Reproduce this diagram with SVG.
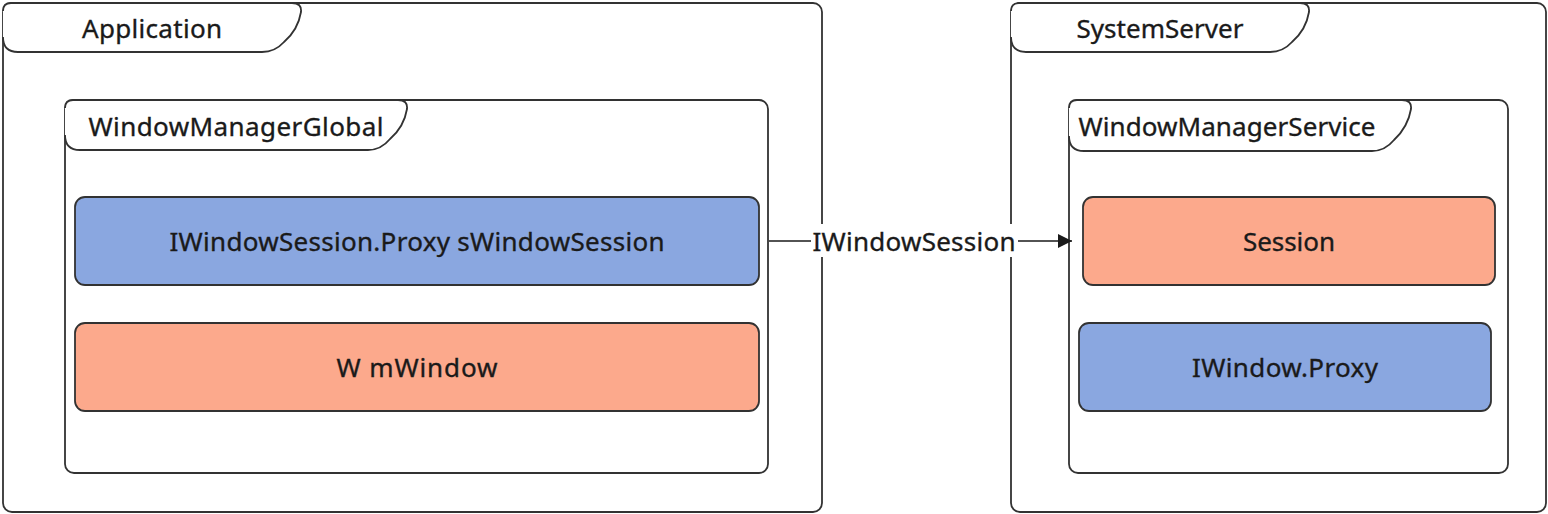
<svg xmlns="http://www.w3.org/2000/svg" width="1548" height="514" viewBox="0 0 1548 514">
<style>
.frame{fill:#ffffff;stroke:#323232;stroke-width:1.8}
.tab{fill:#ffffff;stroke:#323232;stroke-width:1.8}
.blue{fill:#8aa7e0;stroke:#323232;stroke-width:1.8}
.orange{fill:#fca98c;stroke:#323232;stroke-width:1.8}
.t{font-family:"Noto Sans","Open Sans","Liberation Sans",sans-serif;font-size:26px;fill:#1a1a1a;stroke:#1a1a1a;stroke-width:0.35;text-anchor:middle}
.edge{stroke:#1a1a1a;stroke-width:1.6;fill:none}
</style>
<defs>
<marker id="arr" viewBox="0 0 14 14" refX="14" refY="7" markerWidth="14" markerHeight="14" markerUnits="userSpaceOnUse" orient="auto">
<path d="M0,0 L14,7 L0,14 Z" fill="#1a1a1a"/>
</marker>
</defs>
<rect width="1548" height="514" fill="#ffffff"/>

<g id="application">
<rect class="frame" x="3" y="3" width="819" height="509" rx="9"/>
<path class="tab" d="M3,11 Q3,3 11,3 L292,3 Q302,3 301,12 Q298,30 284,42 Q275,52 262,52 L18,52 Q3,52 3,37"/>
<text class="t" x="152" y="38" textLength="140" lengthAdjust="spacing">Application</text>
</g>

<g id="windowManagerGlobal">
<rect class="frame" x="65" y="100" width="703" height="373" rx="9"/>
<path class="tab" d="M65,108 Q65,100 73,100 L398,100 Q408,100 407,109 Q404,127 390,139 Q381,150 368,150 L80,150 Q65,150 65,135"/>
<text class="t" x="236" y="136" textLength="295" lengthAdjust="spacing">WindowManagerGlobal</text>
</g>

<g id="sWindowSession">
<rect class="blue" x="75" y="197" width="684" height="88" rx="10"/>
<text class="t" x="417" y="251" textLength="495" lengthAdjust="spacing">IWindowSession.Proxy sWindowSession</text>
</g>

<g id="mWindow">
<rect class="orange" x="75" y="323" width="684" height="88" rx="10"/>
<text class="t" x="417" y="377" textLength="161" lengthAdjust="spacing">W mWindow</text>
</g>

<g id="systemServer">
<rect class="frame" x="1011" y="3" width="535" height="509" rx="9"/>
<path class="tab" d="M1011,11 Q1011,3 1019,3 L1300,3 Q1310,3 1309,12 Q1306,30 1292,42 Q1283,52 1270,52 L1026,52 Q1011,52 1011,37"/>
<text class="t" x="1160" y="38" textLength="167" lengthAdjust="spacing">SystemServer</text>
</g>

<g id="windowManagerService">
<rect class="frame" x="1069" y="100" width="439" height="373" rx="9"/>
<path class="tab" d="M1069,108 Q1069,100 1077,100 L1402,100 Q1412,100 1411,109 Q1408,127 1394,140 Q1385,151 1372,151 L1084,151 Q1069,151 1069,136"/>
<text class="t" x="1227" y="136" textLength="297" lengthAdjust="spacing">WindowManagerService</text>
</g>

<g id="session">
<rect class="orange" x="1083" y="197" width="412" height="88" rx="10"/>
<text class="t" x="1289" y="251" textLength="92" lengthAdjust="spacing">Session</text>
</g>

<g id="iWindowProxy">
<rect class="blue" x="1079" y="323" width="412" height="88" rx="10"/>
<text class="t" x="1285" y="377" textLength="186" lengthAdjust="spacing">IWindow.Proxy</text>
</g>

<g id="connectors">
<path class="edge" d="M769,241 L1072,241" marker-end="url(#arr)"/>
<rect x="811" y="224" width="207" height="33" fill="#ffffff"/>
<text class="t" x="914" y="251" textLength="203" lengthAdjust="spacing">IWindowSession</text>
</g>
</svg>
